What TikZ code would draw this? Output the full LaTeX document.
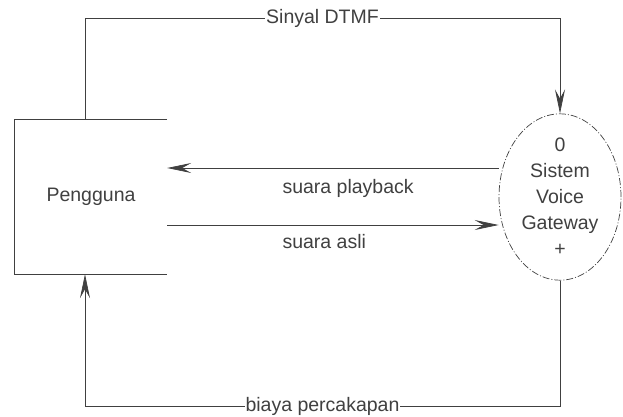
\documentclass[tikz,border=0pt]{standalone}
\usepackage{fontspec}
\setmainfont{Liberation Sans}
\usepackage{xcolor}
\usepackage{tikz}
\usetikzlibrary{shapes.geometric, arrows.meta, positioning}
\definecolor{inkgray}{rgb}{0.25, 0.25, 0.25}
\tikzstyle{arrow} = [line width=0.7pt, draw=inkgray, -{Stealth[length=24pt, width=10pt, inset=9pt]}]
\tikzstyle{flow} = [line width=0.7pt, draw=inkgray]

\begin{document}
\begin{tikzpicture}[x=1pt, y=-1pt, font=\fontsize{19.5}{26}\selectfont, text=inkgray,
    entity/.style={minimum width=152pt, minimum height=154pt, inner sep=0pt},
    proc/.style={ellipse, draw=inkgray, line width=0.7pt, dash pattern=on 7pt off 2pt on 1pt off 2pt, minimum width=122pt, minimum height=132pt, inner sep=0pt, align=center},
    lbl/.style={fill=white, inner sep=1pt}]
    \useasboundingbox (0,0) rectangle (623,416);
    \node[entity] (peng) at (91,197) {Pengguna};
    \node[proc] (sys) at (560,197) {0\\Sistem\\Voice\\Gateway\\+};
    % sisi kanan entitas dibiarkan terbuka
    \draw[flow] (peng.north east) -- (peng.north west) -- (peng.south west) -- (peng.south east);
    \coordinate (tl) at (85,18);
    \coordinate (tr) at (560,18);
    \coordinate (bl) at (85,406);
    \coordinate (br) at (560,406);
    \draw[arrow] (peng.north -| tl) -- (tl) -- node[lbl] {Sinyal DTMF} (tr) -- (sys.north);
    \draw[arrow] (sys.south) -- (br) -- node[lbl] {biaya percakapan} (bl) -- (peng.south -| bl);
    \draw[arrow] (sys.west |- 0,168) -- (peng.east |- 0,168);
    \draw[arrow] (peng.east |- 0,225) -- (sys.west |- 0,225);
    \node[anchor=west] (lplay) at (279,188) {suara playback};
    \node[anchor=west] (lasli) at (279,242) {suara asli};
\end{tikzpicture}
\end{document}
